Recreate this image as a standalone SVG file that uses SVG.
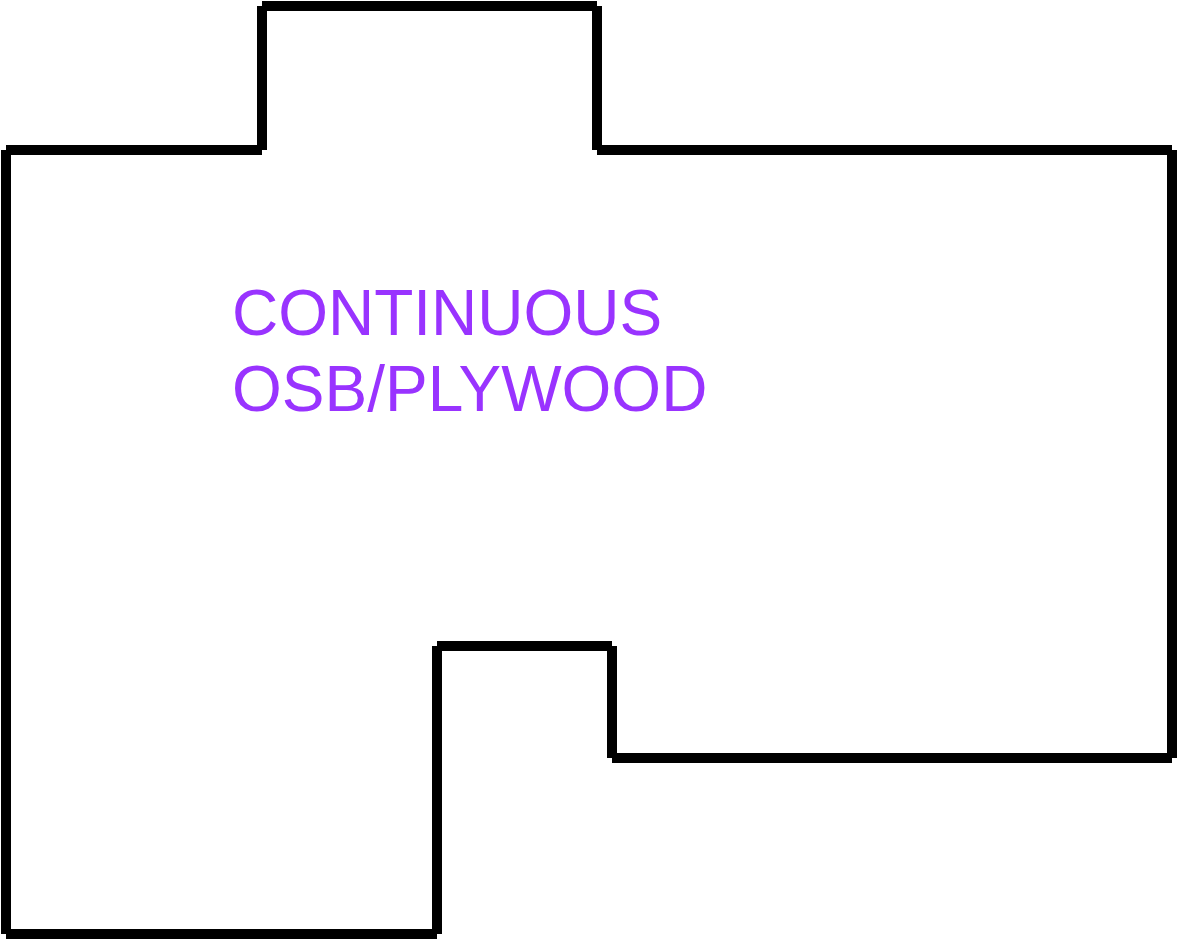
<svg xmlns="http://www.w3.org/2000/svg" width="1178" height="940" viewBox="0 0 1178 940">
<style>
.w{stroke:#000;stroke-width:10;stroke-linecap:butt;fill:none}
.t{font-family:"Liberation Sans",Arial,sans-serif;font-size:64px;fill:#9933FF}
</style>
<rect width="1178" height="940" fill="#fff"/>
<g id="outline">
<line class="w" x1="6" y1="150" x2="262" y2="150"/>
<line class="w" x1="262" y1="150" x2="262" y2="6"/>
<line class="w" x1="262" y1="6" x2="597" y2="6"/>
<line class="w" x1="597" y1="6" x2="597" y2="150"/>
<line class="w" x1="597" y1="150" x2="1172" y2="150"/>
<line class="w" x1="1172" y1="150" x2="1172" y2="758"/>
<line class="w" x1="1172" y1="758" x2="612" y2="758"/>
<line class="w" x1="612" y1="758" x2="612" y2="646"/>
<line class="w" x1="612" y1="646" x2="437" y2="646"/>
<line class="w" x1="437" y1="646" x2="437" y2="934"/>
<line class="w" x1="437" y1="934" x2="6" y2="934"/>
<line class="w" x1="6" y1="934" x2="6" y2="150"/>
</g>
<g id="label">
<text class="t" x="232" y="335">CONTINUOUS</text>
<text class="t" x="232" y="411">OSB/PLYWOOD</text>
</g>
</svg>
